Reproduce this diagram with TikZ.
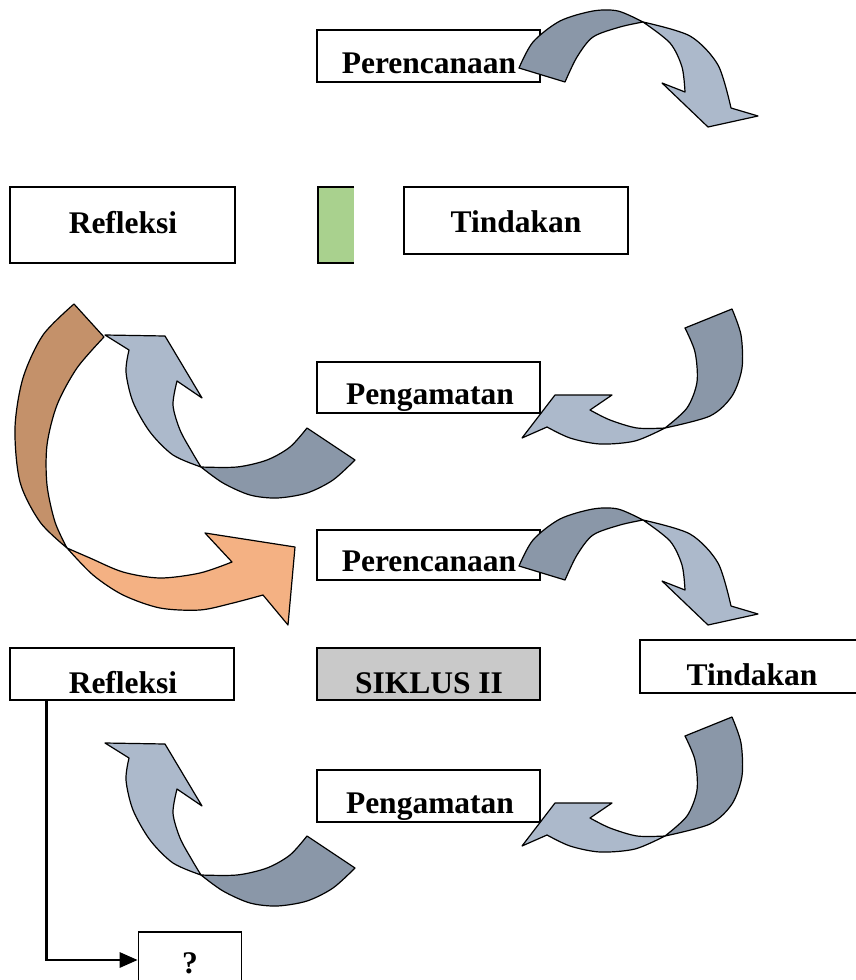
\documentclass[tikz,border=0pt]{standalone}
\usepackage{fontspec}
\setmainfont{Liberation Serif}
\usetikzlibrary{arrows.meta}
\definecolor{darkrib}{HTML}{8A97A8}
\definecolor{lightrib}{HTML}{ACB9CB}
\definecolor{brownrib}{HTML}{C4916A}
\definecolor{orangerib}{HTML}{F4B183}
\definecolor{greenbox}{HTML}{A9D18E}
\definecolor{graybox}{HTML}{C9C9C9}
\tikzset{
  box/.style={draw=black, line width=1.6pt, inner sep=0pt},
  lbl/.style={font=\fontsize{31.5}{36}\selectfont\bfseries, inner sep=0pt, anchor=base},
  ribbon/.style={draw=black, line width=1.2pt, line join=round},
  conn/.style={draw=black, line width=2.8pt},
  arrowone/.pic={
    \filldraw[ribbon, fill=darkrib] plot[smooth] coordinates {(519,68) (533,42) (560,21) (593,11) (618,11) (643,22)}
      -- plot[smooth] coordinates {(643,22) (620,27) (593,37) (577,57) (565,82)} -- cycle;
    \filldraw[ribbon, fill=lightrib] plot[smooth] coordinates {(643,22) (690,36) (718,65) (731,108)}
      -- (758,116) -- (708,127) -- (662,83)
      -- plot[smooth] coordinates {(685,92) (682,67) (670,43) (643,22)} -- cycle;
  },
  arrowtwo/.pic={
    \filldraw[ribbon, fill=darkrib] plot[smooth] coordinates {(732,309) (741,335) (742,368) (732,396) (710,416) (665,428)}
      -- plot[smooth] coordinates {(665,428) (687,408) (697,382) (695,352) (685,328)} -- cycle;
    \filldraw[ribbon, fill=lightrib] plot[smooth] coordinates {(665,428) (635,441) (600,444) (570,438) (547,427)}
      -- (522,438) -- (555,395) -- (612,395)
      -- plot[smooth] coordinates {(590,410) (610,420) (637,428) (665,428)} -- cycle;
  },
  arrowthree/.pic={
    \filldraw[ribbon, fill=darkrib] plot[smooth] coordinates {(201,467) (223,483) (250,495) (277,498) (307,493) (333,480) (355,460)}
      -- plot[smooth] coordinates {(307,428) (290,447) (267,460) (237,467) (201,467)} -- cycle;
    \filldraw[ribbon, fill=lightrib] plot[smooth] coordinates {(201,467) (192,452) (180,430) (173,405) (177,381)}
      -- (202,398) -- (165,336) -- (105,335)
      -- plot[smooth] coordinates {(129,350) (126,372) (133,402) (150,432) (173,455) (201,467)} -- cycle;
  }
}
\begin{document}
\begin{tikzpicture}[x=1pt,y=-1pt]
\useasboundingbox (0,0) rectangle (855,980);
\fill[white] (0,0) rectangle (855,980);

% boxes
\node[box, minimum width=223pt, minimum height=52pt] (p1) at (428.5,56) {};
\node[box, minimum width=225pt, minimum height=76pt] (r1) at (122.5,225) {};
\node[fill=greenbox, minimum width=36pt, minimum height=76pt, inner sep=0pt] (g1) at (336,225) {};
\draw[line width=1.6pt] (g1.north east) -- (g1.north west) -- (g1.south west) -- (g1.south east);
\node[box, minimum width=224pt, minimum height=67pt] (t1) at (516,220.5) {};
\node[box, minimum width=223pt, minimum height=51pt] (m1) at (428.5,387.5) {};
\node[box, minimum width=223pt, minimum height=50pt] (p2) at (428.5,555) {};
\node[box, minimum width=224pt, minimum height=52pt] (r2) at (122,674) {};
\node[box, fill=graybox, minimum width=223pt, minimum height=52pt] (s2) at (428.5,674) {};
\node[box, minimum width=217pt, minimum height=53pt] (t2) at (748.5,666.5) {};
\node[box, minimum width=223pt, minimum height=52pt] (m2) at (428.5,796) {};
\node[box, minimum width=103pt, minimum height=56pt] (q) at (190,960) {};

% connector
\draw[conn, -{Triangle[length=18pt,width=15pt]}] ([xshift=37pt]r2.south west) |- (q.west);

% curved arrows
\filldraw[ribbon, fill=brownrib] plot[smooth] coordinates {(74,304) (43,335) (23,378) (15,428) (20,482) (40,522) (67,548)}
  -- plot[smooth] coordinates {(67,548) (55,522) (47,485) (47,445) (57,405) (77,368) (104,337)} -- cycle;
\filldraw[ribbon, fill=orangerib] plot[smooth] coordinates {(67,548) (93,575) (123,595) (160,608) (200,610) (233,603) (263,595)}
  -- (288,625) -- (295,547) -- (205,533)
  -- plot[smooth] coordinates {(232,562) (200,573) (160,578) (123,572) (90,558) (67,548)} -- cycle;

\pic at (0,0) {arrowone};
\pic at (0,498) {arrowone};
\pic at (0,0) {arrowtwo};
\pic at (0,408) {arrowtwo};
\pic at (0,0) {arrowthree};
\pic at (0,408) {arrowthree};

% labels
\node[lbl] (p1t) at (429,73) {Perencanaan};
\node[lbl] (r1t) at (123,233) {Refleksi};
\node[lbl] (t1t) at (516,232) {Tindakan};
\node[lbl] (m1t) at (430,404) {Pengamatan};
\node[lbl] (p2t) at (429,571) {Perencanaan};
\node[lbl] (r2t) at (123,693) {Refleksi};
\node[lbl] (s2t) at (429,693) {SIKLUS II};
\node[lbl] (t2t) at (752,685) {Tindakan};
\node[lbl] (m2t) at (430,813) {Pengamatan};
\node[lbl] (qt) at (190,973) {?};
\end{tikzpicture}
\end{document}
